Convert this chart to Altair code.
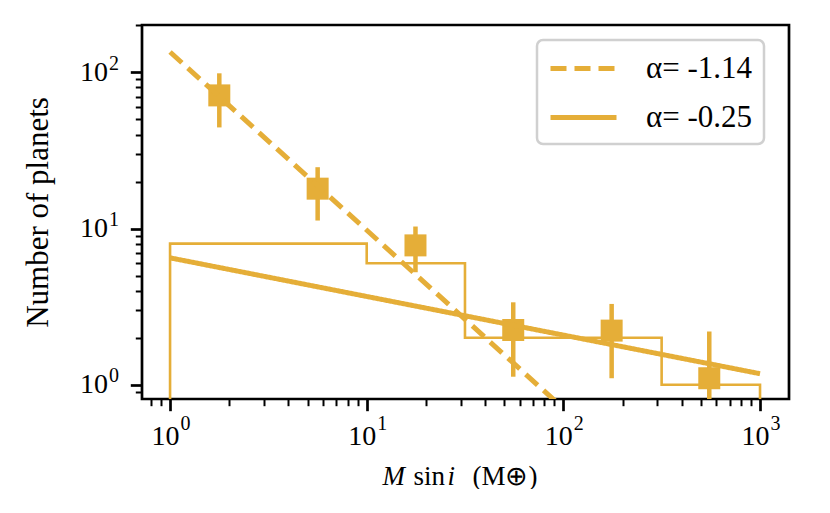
import altair as alt
import pandas as pd

COLOR = "#e5ae38"
FONT = "Liberation Serif"

# histogram (step outline)
bin_edges = [1.0, 10.0, 31.6, 316.0, 1000.0]
bin_counts = [8, 6, 2, 1]
floor_val = 0.01  # below the axis, clipped

# binned points with error bars
pt_x = [1.78, 5.63, 17.7, 55.6, 176.0, 552.0]
pt_y = [71.2, 18.0, 7.8, 2.24, 2.22, 1.10]
err_lo = [44.4, 11.25, 5.25, 1.125, 1.10, 0.3]
err_hi = [98.6, 24.7, 10.3, 3.37, 3.29, 2.19]

# power-law fits (end points)
fit_labels = ["α= -1.14", "α= -0.25"]
fit_x = [1.0, 1000.0]
fit_y_steep = [135.0, 0.051]
fit_y_flat = [6.49, 1.176]

major_ticks = [1, 10, 100, 1000]
x_minor = [0.8, 0.9, 2, 3, 4, 5, 6, 7, 8, 9, 20, 30, 40, 50, 60, 70, 80, 90,
           200, 300, 400, 500, 600, 700, 800, 900]
y_minor = [0.9, 2, 3, 4, 5, 6, 7, 8, 9, 20, 30, 40, 50, 60, 70, 80, 90, 200]

# ---- build tables ----
hx, hy = [bin_edges[0]], [floor_val]
for i, c in enumerate(bin_counts):
    hx += [bin_edges[i], bin_edges[i + 1]]
    hy += [c, c]
hx.append(bin_edges[-1])
hy.append(floor_val)
hist_df = pd.DataFrame({"x": hx, "y": hy, "o": list(range(len(hx)))})

pts_df = pd.DataFrame({"x": pt_x, "y": pt_y, "lo": err_lo, "hi": err_hi})

fit_df = pd.DataFrame({
    "x": fit_x + fit_x,
    "y": fit_y_steep + fit_y_flat,
    "fit": [fit_labels[0]] * 2 + [fit_labels[1]] * 2,
})

xscale = alt.Scale(type="log", domain=[0.72, 1404], nice=False)
yscale = alt.Scale(type="log", domain=[0.81, 201], nice=False)

major_test = "indexof([1,10,100,1000], datum.value) >= 0"
exp_expr = ("datum.value == 1 ? '0' : datum.value == 10 ? '1' : "
            "datum.value == 100 ? '2' : datum.value == 1000 ? '3' : ''")

TICK_FS = 28
EXP_FS = 20
XT_FS = 27
XT_Y = 85


def title_part(text, x, italic):
    """bottom axis carrying only one piece of the x title"""
    return dict(
        title=text,
        titleX=x,
        titleY=XT_Y,
        titleAlign="left",
        titleAnchor="start",
        titleBaseline="alphabetic",
        titleFontStyle="italic" if italic else "normal",
        titleFontSize=XT_FS,
    )


x_main = alt.Axis(
    orient="bottom",
    values=major_ticks + x_minor,
    labelExpr=f"{major_test} ? '10' : ''",
    tickSize={"condition": {"test": major_test, "value": 11.7}, "value": 6.7},
    tickWidth={"condition": {"test": major_test, "value": 2.7}, "value": 2},
    labelPadding=11.7,
    labelOffset=-5,
    labelFontSize=TICK_FS,
    **title_part("M", 240, True),
)
x_exp = alt.Axis(
    orient="bottom",
    values=major_ticks,
    labelExpr=exp_expr,
    tickSize=11.7,
    tickOpacity=0,
    labelPadding=3,
    labelOffset=15,
    labelFontSize=EXP_FS,
    **title_part("sin", 271, False),
)
x_t3 = alt.Axis(
    orient="bottom", ticks=False, labels=False, domain=False,
    **title_part("i", 305, True),
)
x_t4 = alt.Axis(
    orient="bottom", ticks=False, labels=False, domain=False,
    **title_part("(M⊕)", 330, False),
)

y_main = alt.Axis(
    orient="left",
    values=major_ticks + y_minor,
    labelExpr=f"{major_test} ? '10' : ''",
    tickSize={"condition": {"test": major_test, "value": 11.7}, "value": 6.7},
    tickWidth={"condition": {"test": major_test, "value": 2.7}, "value": 2},
    labelPadding=22.7,
    labelFontSize=TICK_FS,
    title="Number of planets",
    titleFontSize=31,
    titleAngle=270,
    titleBaseline="bottom",
    titleX=-88,
)
y_exp = alt.Axis(
    orient="left",
    values=major_ticks,
    labelExpr=exp_expr,
    tickSize=11.7,
    tickOpacity=0,
    labelPadding=11.7,
    labelOffset=-9,
    labelFontSize=EXP_FS,
    title=None,
)

hist = alt.Chart(hist_df).mark_line(clip=True, color=COLOR, strokeWidth=2.6).encode(
    x=alt.X("x:Q", scale=xscale, axis=x_main),
    y=alt.Y("y:Q", scale=yscale, axis=y_main),
    order="o:Q",
)

errbars = alt.Chart(pts_df).mark_rule(clip=True, color=COLOR, strokeWidth=4.5).encode(
    x=alt.X("x:Q", scale=xscale, axis=x_t3),
    y=alt.Y("lo:Q", scale=yscale, axis=None),
    y2="hi:Q",
)

points = alt.Chart(pts_df).mark_square(size=484, color=COLOR, opacity=1, filled=True).encode(
    x=alt.X("x:Q", scale=xscale, axis=x_exp),
    y=alt.Y("y:Q", scale=yscale, axis=y_exp),
)

fits = alt.Chart(fit_df).mark_line(clip=True, color=COLOR, strokeWidth=5).encode(
    x=alt.X("x:Q", scale=xscale, axis=x_t4),
    y=alt.Y("y:Q", scale=yscale, axis=None),
    detail="fit:N",
    strokeDash=alt.StrokeDash(
        "fit:N",
        scale=alt.Scale(domain=fit_labels, range=[[16, 8], [1, 0]]),
        sort=fit_labels,
        legend=alt.Legend(
            title=None,
            orient="none",
            legendX=395,
            legendY=15,
            symbolType="M-1,0L3.4,0",
            symbolSize=900,
            symbolStrokeWidth=5,
            symbolStrokeColor=COLOR,
            labelFont=FONT,
            labelFontSize=31,
            labelColor="black",
            labelOffset=63,
            padding=11,
            rowPadding=16,
            strokeColor="#d0d0d0",
            fillColor="white",
            cornerRadius=6,
        ),
    ),
)

chart = (
    alt.layer(hist, errbars, points, fits)
    .resolve_axis(x="independent", y="independent")
    .properties(
        width=647,
        height=374,
        autosize=alt.AutoSizeParams(type="none"),
        padding={"left": 134, "top": 17, "right": 30, "bottom": 90},
        background="white",
    )
    .configure_view(stroke="black", strokeWidth=2.7)
    .configure_axis(
        grid=False,
        domain=False,
        labelFont=FONT,
        titleFont=FONT,
        titleFontWeight="normal",
        labelColor="black",
        titleColor="black",
        tickColor="black",
    )
    .configure_legend(strokeWidth=2.5)
)

chart.save("out.html", embed_options={"renderer": "svg", "actions": False})
